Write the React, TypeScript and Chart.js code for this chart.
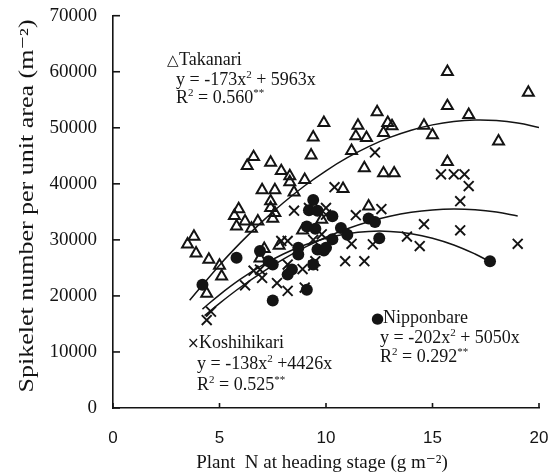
import React, { useEffect, useRef } from "react";
import { Chart, registerables } from "chart.js";
Chart.register(...registerables);

// ---- data ----
const takanariX = [3.5, 3.8, 3.9, 4.4, 4.5, 5.0, 5.1, 5.7, 5.8, 5.9, 6.2, 6.3, 6.6, 6.5, 6.8, 7.0, 7.6, 7.4, 7.9, 8.3, 8.3, 8.5, 7.4, 7.4, 7.5, 7.6, 7.1, 6.9, 7.8, 9.0, 8.9, 9.3, 9.4, 9.9, 10.8, 11.2, 11.4, 11.5, 11.8, 11.9, 12.0, 12.4, 12.7, 12.7, 12.9, 13.1, 13.2, 14.6, 15.0, 15.7, 15.7, 15.7, 16.7, 18.1, 19.5, 9.8];
const takanariY = [29200, 30600, 27600, 20400, 26500, 25400, 23500, 34300, 32400, 35500, 33300, 43200, 44800, 32000, 33300, 38900, 38900, 43800, 42300, 40300, 41400, 38500, 36900, 35700, 33800, 34800, 28400, 26700, 29000, 40700, 31700, 45100, 48300, 50900, 39100, 45900, 48500, 50400, 42800, 48200, 36000, 52800, 41900, 49100, 50900, 50300, 41900, 50400, 48700, 60000, 53900, 43900, 52300, 47600, 56300, 33600];

const koshihikariX = [4.4, 4.6, 6.2, 6.6, 7.0, 7.7, 8.2, 8.5, 7.9, 8.2, 8.9, 9.0, 9.4, 9.2, 10.0, 9.8, 9.5, 12.3, 10.4, 12.6, 11.4, 11.2, 12.2, 10.9, 11.8, 15.4, 16.0, 16.5, 16.7, 16.3, 14.6, 16.3, 13.8, 14.4, 19.0, 10.0, 6.9, 8.2, 9.4];
const koshihikariY = [15700, 17200, 21900, 24500, 23200, 22300, 20900, 35200, 29800, 29800, 24800, 21500, 25400, 35700, 35700, 31000, 26200, 45600, 39400, 35500, 34400, 29300, 29200, 26200, 26200, 41700, 41700, 41700, 39600, 36900, 32800, 31700, 30600, 28900, 29300, 34500, 24700, 25600, 30000];

const nipponbareX = [4.2, 5.8, 6.9, 7.5, 7.3, 7.5, 8.2, 8.4, 8.7, 8.7, 9.4, 9.2, 9.6, 9.1, 9.5, 9.6, 9.9, 9.4, 9.1, 10.3, 10.7, 11.0, 10.3, 10.0, 12.0, 12.3, 12.5, 17.7];
const nipponbareY = [22000, 26800, 28000, 19200, 26200, 25600, 23800, 24700, 28600, 27400, 37100, 35300, 35200, 32400, 32000, 28300, 28100, 25600, 21100, 34200, 32100, 30900, 30100, 28600, 33800, 33200, 30300, 26200];

// fitted curves
const takanariFitX = [3.6, 5, 6, 7, 8, 9, 10, 11, 12, 13, 14, 15, 16, 17, 18, 19, 20];
const takanariFitY = [19225, 25490, 29550, 33264, 36632, 39654, 42330, 44660, 46644, 48282, 49574, 50520, 51120, 51374, 51282, 50844, 50060];
const koshihikariFitX = [4.3, 5, 6, 7, 8, 9, 10, 11, 12, 13, 14, 15, 16, 17, 18, 19];
const koshihikariFitY = [16480, 18680, 21588, 24220, 26576, 28656, 30460, 31988, 33240, 34216, 34916, 35340, 35488, 35360, 34956, 34276];
const nipponbareFitX = [4.2, 5, 6, 7, 8, 9, 10, 11, 12, 13, 14, 15, 16, 17, 17.65];
const nipponbareFitY = [17647, 20200, 23028, 25452, 27472, 29088, 30300, 31108, 31512, 31512, 31108, 30300, 29088, 27472, 26205];

const xTicks = [0, 5, 10, 15, 20];
const yTicks = [0, 10000, 20000, 30000, 40000, 50000, 60000, 70000];

const xTitle = "Plant  N at heading stage (g m\u207B\u00B2)";
const yTitle = "Spikelet number per unit area (m\u207B\u00B2)";

type Seg = { t: string; sup?: boolean };
const labels: { sym: string; name: string; eq: Seg[]; r2: Seg[] }[] = [
  {
    sym: "\u25B3",
    name: "Takanari",
    eq: [{ t: "y = -173x" }, { t: "2", sup: true }, { t: " + 5963x" }],
    r2: [{ t: "R" }, { t: "2", sup: true }, { t: " = 0.560" }, { t: "**", sup: true }],
  },
  {
    sym: "\u00D7",
    name: "Koshihikari",
    eq: [{ t: "y = -138x" }, { t: "2", sup: true }, { t: " +4426x" }],
    r2: [{ t: "R" }, { t: "2", sup: true }, { t: " = 0.525" }, { t: "**", sup: true }],
  },
  {
    sym: "\u25CF",
    name: "Nipponbare",
    eq: [{ t: "y = -202x" }, { t: "2", sup: true }, { t: " + 5050x" }],
    r2: [{ t: "R" }, { t: "2", sup: true }, { t: " = 0.292" }, { t: "**", sup: true }],
  },
];
// pixel layout of the three label blocks
const labelPos = [
  { symX: 167, nameX: 179, textX: 176, base: [65, 85, 103] },
  { symX: 187, nameX: 199, textX: 197, base: [348, 369, 390] },
  { symX: 371, nameX: 383, textX: 380, base: [323, 343, 362] },
];

const SERIF = '"Liberation Serif", "DejaVu Serif", serif';
const INK = "#141414";

function pts(xs: number[], ys: number[]) {
  return xs.map((x, i) => ({ x, y: ys[i] }));
}

function drawRich(ctx: CanvasRenderingContext2D, x: number, y: number, segs: Seg[], size: number) {
  let cx = x;
  for (const s of segs) {
    if (s.sup) {
      ctx.font = `${Math.round(size * 0.62)}px ${SERIF}`;
      ctx.fillText(s.t, cx, y - size * 0.38);
    } else {
      ctx.font = `${size}px ${SERIF}`;
      ctx.fillText(s.t, cx, y);
    }
    cx += ctx.measureText(s.t).width;
  }
}

const decor = {
  id: "decor",
  afterDraw(chart: any) {
    const { ctx, scales } = chart;
    const x = scales.x, y = scales.y;
    ctx.save();
    ctx.strokeStyle = INK;
    ctx.lineWidth = 1.6;
    for (const v of xTicks) {
      const px = x.getPixelForValue(v);
      ctx.beginPath();
      ctx.moveTo(px, y.bottom);
      ctx.lineTo(px, y.bottom - 5);
      ctx.stroke();
    }
    for (const v of yTicks) {
      const py = y.getPixelForValue(v);
      ctx.beginPath();
      ctx.moveTo(x.left, py);
      ctx.lineTo(x.left + 7, py);
      ctx.stroke();
    }
    ctx.fillStyle = INK;
    ctx.textAlign = "left";
    ctx.textBaseline = "alphabetic";
    labels.forEach((l, i) => {
      const p = labelPos[i];
      ctx.font = `15px "DejaVu Sans", sans-serif`;
      ctx.fillText(l.sym, p.symX, p.base[0]);
      ctx.font = `18px ${SERIF}`;
      ctx.fillText(l.name, p.nameX, p.base[0]);
      drawRich(ctx, p.textX, p.base[1], l.eq, 18);
      drawRich(ctx, p.textX, p.base[2], l.r2, 18);
    });
    // x-axis title
    ctx.font = `19px ${SERIF}`;
    ctx.textAlign = "center";
    ctx.textBaseline = "alphabetic";
    ctx.fillText(xTitle, 322, 468);
    // y-axis title (drawn stretched along its length as in the source figure)
    ctx.save();
    ctx.translate(28, 206);
    ctx.rotate(-Math.PI / 2);
    ctx.scale(1.3, 1);
    ctx.font = `20px ${SERIF}`;
    ctx.textAlign = "center";
    ctx.textBaseline = "middle";
    ctx.fillText(yTitle, 0, 0);
    ctx.restore();
    ctx.restore();
  },
};

export default function App() {
  const ref = useRef<HTMLCanvasElement>(null);
  useEffect(() => {
    const chart = new Chart(ref.current!, {
      type: "scatter",
      data: {
        datasets: [
          {
            label: "Nipponbare",
            data: pts(nipponbareX, nipponbareY),
            pointStyle: "circle",
            pointRadius: 6,
            backgroundColor: INK,
            borderColor: INK,
            borderWidth: 0,
          },
          {
            label: "Koshihikari",
            data: pts(koshihikariX, koshihikariY),
            pointStyle: "crossRot",
            pointRadius: 7,
            borderColor: INK,
            borderWidth: 1.9,
          },
          {
            label: "Takanari",
            data: pts(takanariX, takanariY),
            pointStyle: "triangle",
            pointRadius: 6.3,
            backgroundColor: "rgba(255,255,255,0)",
            borderColor: INK,
            borderWidth: 2,
          },
          {
            label: "Takanari fit",
            data: pts(takanariFitX, takanariFitY),
            showLine: true,
            pointRadius: 0,
            borderColor: INK,
            borderWidth: 1.5,
            tension: 0.4,
          } as any,
          {
            label: "Koshihikari fit",
            data: pts(koshihikariFitX, koshihikariFitY),
            showLine: true,
            pointRadius: 0,
            borderColor: INK,
            borderWidth: 1.5,
            tension: 0.4,
          } as any,
          {
            label: "Nipponbare fit",
            data: pts(nipponbareFitX, nipponbareFitY),
            showLine: true,
            pointRadius: 0,
            borderColor: INK,
            borderWidth: 1.5,
            tension: 0.4,
          } as any,
        ],
      },
      options: {
        responsive: false,
        animation: false,
        events: [],
        layout: { padding: { top: 15.7, right: 15, left: 0, bottom: 0 } },
        plugins: { legend: { display: false }, tooltip: { enabled: false } },
        scales: {
          x: {
            type: "linear",
            min: 0,
            max: 20,
            afterFit: (s: any) => {
              s.height = 67;
              s.paddingLeft = 0;
              s.paddingRight = 0;
            },
            afterBuildTicks: (s: any) => {
              s.ticks = xTicks.map((v) => ({ value: v }));
            },
            ticks: {
              font: { family: '"Liberation Sans", Arial, sans-serif', size: 17 },
              color: INK,
              padding: 20,
              maxRotation: 0,
              callback: (v: any) => String(v),
            },
            grid: { display: false, drawTicks: false },
            border: { display: true, color: INK, width: 1.6 },
            title: { display: false },
          },
          y: {
            type: "linear",
            min: 0,
            max: 70000,
            afterFit: (s: any) => {
              s.width = 113;
              s.paddingTop = 0;
              s.paddingBottom = 0;
            },
            afterBuildTicks: (s: any) => {
              s.ticks = yTicks.map((v) => ({ value: v }));
            },
            ticks: {
              font: { family: SERIF, size: 19 },
              color: INK,
              padding: 16,
              callback: (v: any) => String(v),
            },
            grid: { display: false, drawTicks: false },
            border: { display: true, color: INK, width: 1.6 },
            title: { display: false },
          },
        },
      },
      plugins: [decor],
    } as any);
    return () => chart.destroy();
  }, []);
  return (
    <div style={{ position: "absolute", left: 0, top: 0, width: 554, height: 475, background: "#fff" }}>
      <canvas ref={ref} width={554} height={475} style={{ display: "block" }} />
    </div>
  );
}
